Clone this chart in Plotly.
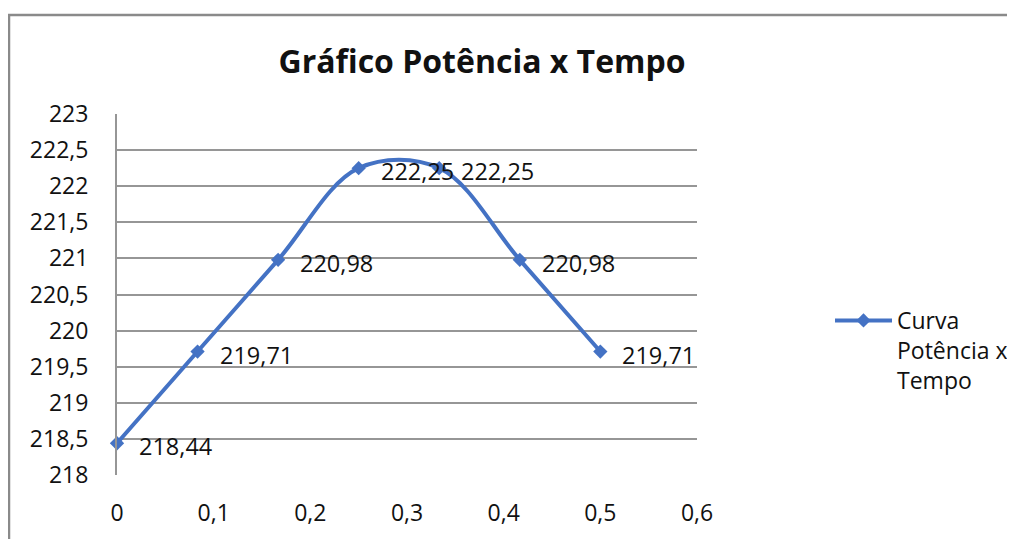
import plotly.graph_objects as go

# Data
tempo = [0, 1/12, 2/12, 3/12, 4/12, 5/12, 6/12]
potencia = [218.44, 219.71, 220.98, 222.25, 222.25, 220.98, 219.71]
labels = ["218,44", "219,71", "220,98", "222,25", "222,25", "220,98", "219,71"]
x_ticks = [0, 0.1, 0.2, 0.3, 0.4, 0.5, 0.6]
x_tick_text = ["0", "0,1", "0,2", "0,3", "0,4", "0,5", "0,6"]
y_ticks = [218, 218.5, 219, 219.5, 220, 220.5, 221, 221.5, 222, 222.5, 223]
y_tick_text = ["218", "218,5", "219", "219,5", "220", "220,5", "221", "221,5", "222", "222,5", "223"]
series_name = "Curva<br>Potência x<br>Tempo"
title = "Gráfico Potência x Tempo"

FONT = "Open Sans"
BLUE = "#4472C4"
GRID = "#969696"
OFF = 8  # page body margin

W, H = 1015 - OFF, 539 - OFF
L, T = 117 - OFF, 114 - OFF
PW, PH = 580, 361

fig = go.Figure()
fig.add_trace(go.Scatter(
    x=tempo, y=potencia, mode="lines+markers", name=series_name,
    line=dict(color=BLUE, width=4, shape="spline", smoothing=1.0),
    marker=dict(symbol="diamond", size=11, color=BLUE),
    cliponaxis=False,
))

for xv, yv, t in zip(tempo, potencia, labels):
    fig.add_annotation(x=xv, y=yv, text=t, showarrow=False, xanchor="left",
                       yanchor="middle", xshift=20, yshift=-3,
                       font=dict(family=FONT, size=23.5, color="#111111"))

# outer chart frame
fig.add_shape(type="rect", xref="paper", yref="paper",
              x0=(9 - 117) / PW, x1=(1040 - 117) / PW,
              y0=(475 - 570) / PH, y1=(475 - 15) / PH,
              line=dict(color="#8a8a8a", width=2.5), layer="below")

fig.update_layout(
    width=W, height=H,
    margin=dict(l=L, r=W - L - PW, t=T, b=H - T - PH, autoexpand=False),
    paper_bgcolor="white", plot_bgcolor="white",
    font=dict(family=FONT, size=23, color="#111111"),
    title=dict(text="<b>" + title + "</b>", x=(482 - OFF) / W, xanchor="center",
               y=1 - (62 - OFF) / H, yanchor="middle", yref="container",
               font=dict(family=FONT, size=32, color="#111111")),
    showlegend=True,
    legend=dict(x=(830 - 117) / PW, xanchor="left", y=(475 - 299) / PH,
                yanchor="top", valign="top", bgcolor="rgba(0,0,0,0)",
                itemwidth=57, tracegroupgap=0,
                font=dict(family=FONT, size=23, color="#111111")),
    xaxis=dict(range=[0, 0.6], tickvals=x_ticks, ticktext=x_tick_text,
               showgrid=False, zeroline=False, showline=False, ticks="",
               ticklabelstandoff=22, fixedrange=True),
    yaxis=dict(range=[218, 223], tickvals=y_ticks, ticktext=y_tick_text,
               showgrid=True, gridcolor=GRID, gridwidth=2, zeroline=False,
               showline=True, linecolor=GRID, linewidth=2, ticks="",
               ticklabelstandoff=22, fixedrange=True),
)

fig.write_html("out.html")
